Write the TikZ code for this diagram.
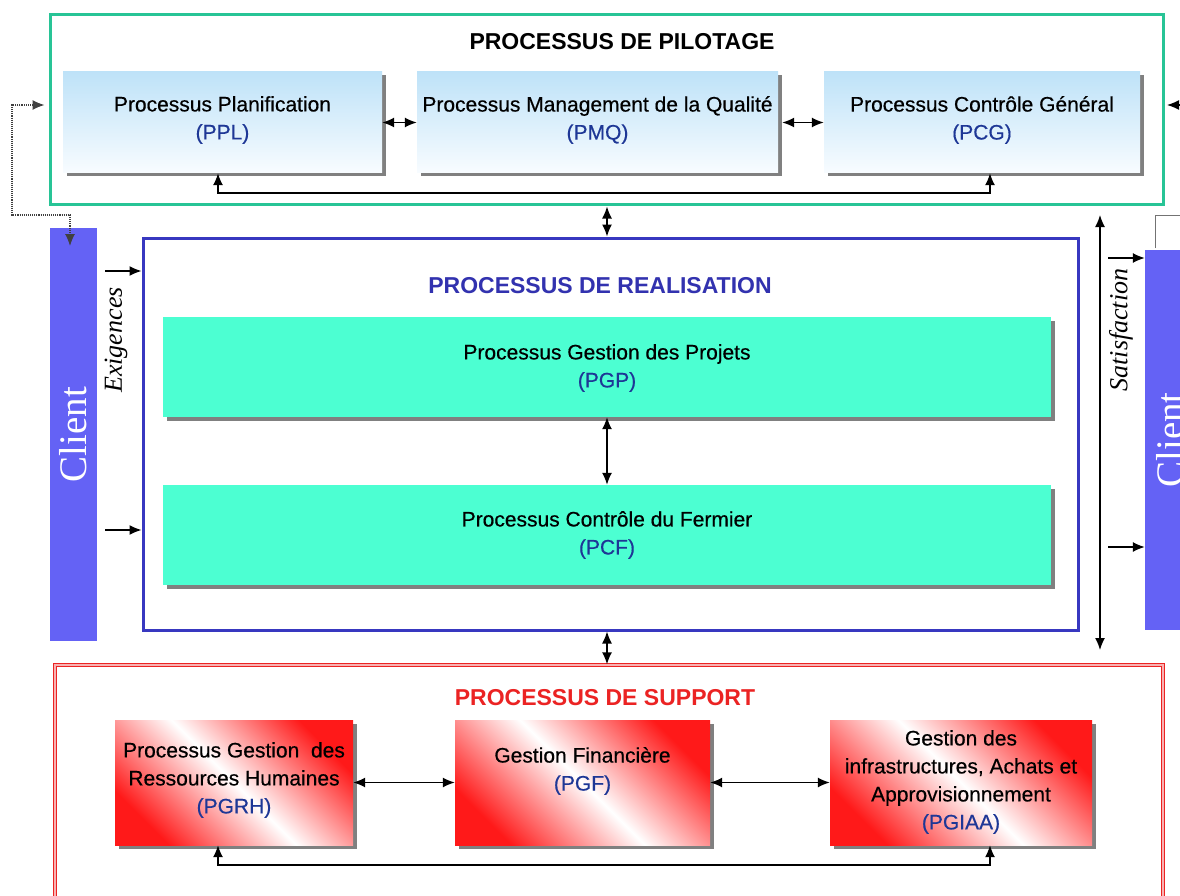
\documentclass[tikz,border=0pt]{standalone}
\usepackage{fontspec}
\setmainfont{Liberation Serif}
\setsansfont{Liberation Sans}
\newfontfamily\semisans{Liberation Sans}[AutoFakeBold=0.5]
\usetikzlibrary{arrows.meta,calc,shadows}
\definecolor{pilgreen}{RGB}{40,196,150}
\definecolor{reablue}{RGB}{56,56,192}
\definecolor{reatitle}{RGB}{50,50,175}
\definecolor{supred}{RGB}{235,35,35}
\definecolor{clientblue}{RGB}{100,98,245}
\definecolor{aqua}{RGB}{76,255,210}
\definecolor{codeblue}{RGB}{30,55,150}
\definecolor{lblue}{RGB}{190,226,248}
\definecolor{lwhite}{RGB}{248,252,255}
\definecolor{sred}{RGB}{255,25,25}
\newcommand\codetxt[1]{\textcolor{codeblue}{#1}}
\tikzset{
  cont/.style={draw, line width=3pt, inner sep=0pt},
  ttl/.style={font=\sffamily\bfseries\fontsize{23}{28}\selectfont, inner sep=0pt},
  boxtxt/.style={font=\semisans\bfseries\fontsize{21}{28}\selectfont, align=center, inner sep=0pt},
  shad/.style={drop shadow={shadow xshift=3.5pt, shadow yshift=-3.5pt, fill=black!50, opacity=1}},
  pbox/.style={rectangle, boxtxt, top color=lblue, bottom color=lwhite, shad, minimum height=101pt},
  abox/.style={rectangle, boxtxt, fill=aqua, shad, minimum width=888pt, minimum height=100pt},
  sbox/.style={rectangle, boxtxt, left color=sred, right color=sred, middle color=white, shading angle=135, shad, minimum height=125pt},
  clientbar/.style={fill=clientblue, inner sep=0pt},
  clienttxt/.style={font=\fontsize{39}{40}\selectfont, text=white, rotate=90, inner sep=0pt},
  sidetxt/.style={font=\itshape\fontsize{26}{28}\selectfont, rotate=90, inner sep=0pt},
  arr/.style={-{Latex[length=12pt,width=10pt]}, line width=1.4pt},
  arrtwo/.style={{Latex[length=12pt,width=10pt]}-{Latex[length=12pt,width=10pt]}, line width=1.4pt},
  dotarr/.style={{Latex[length=12pt,width=10pt]}-{Latex[length=12pt,width=10pt]}, line width=1.1pt, densely dotted, black!75},
}
\begin{document}
\begin{tikzpicture}[x=1pt,y=-1pt]
\useasboundingbox (0,0) rectangle (1180,896);
\clip (0,0) rectangle (1180,896);
\fill[white] (0,0) rectangle (1180,896);

% ---------- containers ----------
\node[cont, draw=pilgreen, minimum width=1113pt, minimum height=190pt] (PIL) at (606.5,110) {};
\node[cont, draw=reablue, minimum width=935pt, minimum height=392pt] (REA) at (610.5,434) {};
\node[draw=supred, line width=1.4pt, double=supred!35, double distance=1.2pt, inner sep=0pt,
      minimum width=1108pt, minimum height=250pt] (SUP) at (609,790) {};

\node[ttl] (tPIL) at (622,42) {PROCESSUS DE PILOTAGE};
\node[ttl, text=reatitle] (tREA) at (600,286) {PROCESSUS DE REALISATION};
\node[ttl, text=supred] (tSUP) at (605,698) {PROCESSUS DE SUPPORT};

% ---------- clients ----------
\node[clientbar, minimum width=47pt, minimum height=413pt] (CL) at (73.5,434.5) {};
\node[clienttxt] (CLt) at (CL.center) {Client};
\node[clientbar, minimum width=60pt, minimum height=380pt] (CR) at (1175,440) {};
\node[clienttxt] (CRt) at (1170,440) {Client};
\node[sidetxt] (EX) at (116,340) {Exigences};
\node[sidetxt] (SA) at (1121,330) {Satisfaction};

% ---------- pilotage ----------
\node[pbox, minimum width=319pt] (PPL) at (222.5,122.5) {};
\node[boxtxt] (PPLt) at (222.5,120) {Processus Planification\\\codetxt{(PPL)}};
\node[pbox, minimum width=361pt] (PMQ) at (597.5,122.5) {};
\node[boxtxt] (PMQt) at (597.5,120) {Processus Management de la Qualité\\\codetxt{(PMQ)}};
\node[pbox, minimum width=316pt] (PCG) at (982,122.5) {};
\node[boxtxt] (PCGt) at (982,120) {Processus Contrôle Général\\\codetxt{(PCG)}};

% ---------- realisation ----------
\node[abox] (PGP) at (607,367) {};
\node[boxtxt] (PGPt) at (607,368) {Processus Gestion des Projets\\\codetxt{(PGP)}};
\node[abox] (PCF) at (607,535) {};
\node[boxtxt] (PCFt) at (607,535) {Processus Contrôle du Fermier\\\codetxt{(PCF)}};

% ---------- support ----------
\node[sbox, minimum width=238pt] (PGRH) at (234,782.5) {};
\node[boxtxt] (PGRHt) at (234,780) {Processus Gestion\ \ des\\Ressources Humaines\\\codetxt{(PGRH)}};
\node[sbox, minimum width=255pt] (PGF) at (582.5,782.5) {};
\node[boxtxt] (PGFt) at (582.5,771) {Gestion Financière\\\codetxt{(PGF)}};
\node[sbox, minimum width=262pt] (PGIAA) at (961,782.5) {};
\node[boxtxt] (PGIAAt) at (961,782) {Gestion des\\infrastructures, Achats et\\Approvisionnement\\\codetxt{(PGIAA)}};

% ---------- coordinates ----------
\coordinate (fbL) at (218,193);
\coordinate (fbR) at (990,193);
\coordinate (sbL) at (218,865);
\coordinate (sbR) at (990,865);
\coordinate (mid) at (607,0);
\coordinate (e1) at (105,271);
\coordinate (e2) at (105,530);
\coordinate (s1) at (1108,258);
\coordinate (s2) at (1108,547);
\coordinate (vTop) at (1100,215);
\coordinate (vBot) at (1100,650);
\coordinate (d1) at (12,105);
\coordinate (d2) at (12,215);
\coordinate (d3) at (70,215);
\coordinate (d4) at (70,246);
\coordinate (g1) at (1155,248);
\coordinate (g2) at (1155,215);
\coordinate (g3) at (1200,215);
\coordinate (r1) at (1200,105);
\coordinate (r2) at (1167,105);

% ---------- connectors ----------
\draw[arrtwo] (PPL.east) -- (PMQ.west);
\draw[arrtwo] ($(PMQ.east)+(4,0)$) -- (PCG.west);
\draw[arrtwo] (PPL.south -| fbL) -- (fbL) -- (fbR) -- (PCG.south -| fbR);
\draw[arrtwo] (PIL.south -| mid) -- (REA.north -| mid);
\draw[arrtwo] (PGP.south -| mid) -- (PCF.north -| mid);
\draw[arrtwo] (REA.south -| mid) -- (SUP.north -| mid);
\draw[arrtwo] (PGRH.east) -- (PGF.west);
\draw[arrtwo] (PGF.east) -- (PGIAA.west);
\draw[arrtwo] (PGRH.south -| sbL) -- (sbL) -- (sbR) -- (PGIAA.south -| sbR);
\draw[arr] (e1) -- (REA.west |- e1);
\draw[arr] (e2) -- (REA.west |- e2);
\draw[arr] (s1) -- (CR.west |- s1);
\draw[arr] (s2) -- (CR.west |- s2);
\draw[arrtwo] (vTop) -- (vBot);
\draw[dotarr] ($(PIL.west |- d1)+(-4,0)$) -- (d1) -- (d2) -- (d3) -- (d4);
\draw[black!55, line width=1pt] (g1) -- (g2) -- (g3);
\draw[arr] (r1) -- (r2);
\end{tikzpicture}
\end{document}
